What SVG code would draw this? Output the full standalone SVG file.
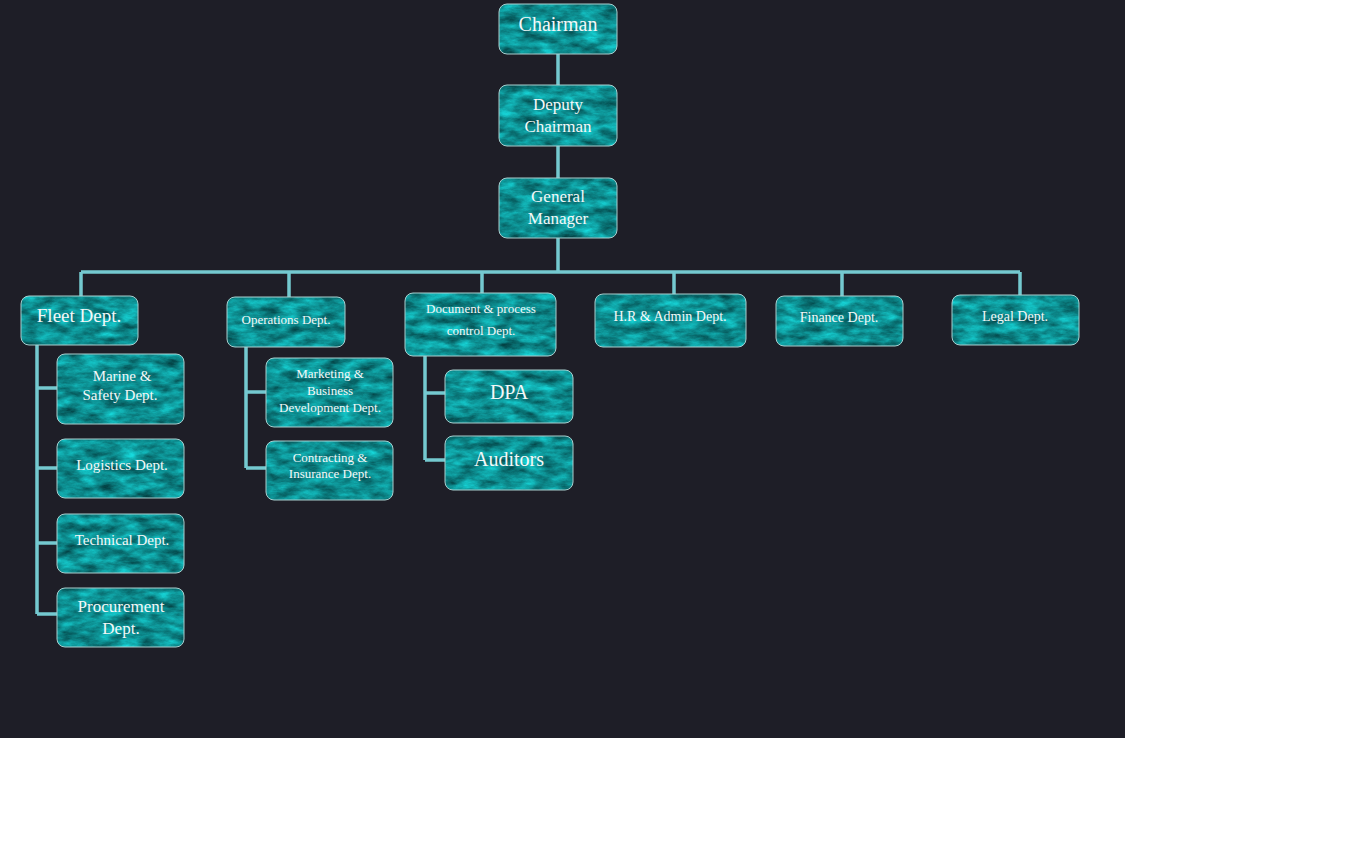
<svg xmlns="http://www.w3.org/2000/svg" width="1360" height="864" viewBox="0 0 1360 864">
  <defs>
    <!-- teal marble fill for the boxes -->
    <filter id="marble" x="0" y="0" width="1" height="1" color-interpolation-filters="sRGB">
      <feTurbulence type="fractalNoise" baseFrequency="0.05 0.12" numOctaves="5" seed="7" result="noise"/>
      <feColorMatrix in="noise" type="matrix" result="tint"
        values="0.1 0 0 0 0
                0.75 0 0 0 0.18
                0.75 0 0 0 0.19
                0 0 0 0 1"/>
      <feComposite in="tint" in2="SourceGraphic" operator="in"/>
    </filter>
    <style>
      .bg { fill: #1e1e27; }
      .box { fill: #119e9e; filter: url(#marble); }
      .edge { fill: none; stroke: #a9cfcf; stroke-width: 1; }
      .wire { fill: none; stroke: #74c9d0; stroke-width: 3; }
      text { font-family: "Liberation Serif", "Times New Roman", serif; fill: #f4f8f8; text-anchor: middle; }
      .t20 { font-size: 20px; }
      .t18 { font-size: 19px; }
      .t17 { font-size: 17px; }
      .t15 { font-size: 15px; }
      .t14 { font-size: 14px; }
      .t13 { font-size: 13px; }
    </style>
  </defs>

  <rect width="1360" height="864" fill="#ffffff"/>
  <rect class="bg" x="0" y="0" width="1125" height="738"/>

  <!-- connectors -->
  <g id="connectors">
    <path id="wire-main" class="wire" d="M558 54 V85 M558 146 V178 M558 238 V272 M81 272 H1020 M81 272 V296 M289 272 V297 M482 272 V293 M674 272 V294 M842 272 V296 M1020 272 V295 M37 345 V614 M37 388 H57 M37 468 H57 M37 543 H57 M37 614 H57 M246 347 V468 M246 392 H266 M246 468 H266 M425 356 V460 M425 393 H445 M425 460 H445"/>
    <use href="#wire-main" style="stroke:#d4f4f4;stroke-width:1"/>
  </g>

  <g id="chairman">
    <rect class="box" x="499" y="4" width="118" height="50" rx="8"/>
    <rect class="edge" x="499" y="4" width="118" height="50" rx="8"/>
    <text class="t20" x="558" y="31">Chairman</text>
  </g>

  <g id="deputy-chairman">
    <rect class="box" x="499" y="85" width="118" height="61" rx="8"/>
    <rect class="edge" x="499" y="85" width="118" height="61" rx="8"/>
    <text class="t17" x="558" y="110">Deputy</text>
    <text class="t17" x="558" y="132">Chairman</text>
  </g>

  <g id="general-manager">
    <rect class="box" x="499" y="178" width="118" height="60" rx="8"/>
    <rect class="edge" x="499" y="178" width="118" height="60" rx="8"/>
    <text class="t17" x="558" y="202">General</text>
    <text class="t17" x="558" y="224">Manager</text>
  </g>

  <g id="fleet-dept">
    <rect class="box" x="21" y="296" width="117" height="49" rx="8"/>
    <rect class="edge" x="21" y="296" width="117" height="49" rx="8"/>
    <text class="t18" x="79" y="322">Fleet Dept.</text>
  </g>

  <g id="operations-dept">
    <rect class="box" x="227" y="297" width="118" height="50" rx="8"/>
    <rect class="edge" x="227" y="297" width="118" height="50" rx="8"/>
    <text class="t13" x="286" y="324">Operations Dept.</text>
  </g>

  <g id="document-dept">
    <rect class="box" x="405" y="293" width="151" height="63" rx="8"/>
    <rect class="edge" x="405" y="293" width="151" height="63" rx="8"/>
    <text class="t13" x="481" y="313">Document &amp; process</text>
    <text class="t13" x="481" y="335">control Dept.</text>
  </g>

  <g id="hr-admin-dept">
    <rect class="box" x="595" y="294" width="151" height="53" rx="8"/>
    <rect class="edge" x="595" y="294" width="151" height="53" rx="8"/>
    <text class="t14" x="670" y="321">H.R &amp; Admin Dept.</text>
  </g>

  <g id="finance-dept">
    <rect class="box" x="776" y="296" width="127" height="50" rx="8"/>
    <rect class="edge" x="776" y="296" width="127" height="50" rx="8"/>
    <text class="t14" x="839" y="322">Finance Dept.</text>
  </g>

  <g id="legal-dept">
    <rect class="box" x="952" y="295" width="127" height="50" rx="8"/>
    <rect class="edge" x="952" y="295" width="127" height="50" rx="8"/>
    <text class="t14" x="1015" y="321">Legal Dept.</text>
  </g>

  <g id="marine-safety-dept">
    <rect class="box" x="57" y="354" width="127" height="70" rx="8"/>
    <rect class="edge" x="57" y="354" width="127" height="70" rx="8"/>
    <text class="t15" x="122" y="381">Marine &amp;</text>
    <text class="t15" x="120" y="400">Safety Dept.</text>
  </g>

  <g id="logistics-dept">
    <rect class="box" x="57" y="439" width="127" height="59" rx="8"/>
    <rect class="edge" x="57" y="439" width="127" height="59" rx="8"/>
    <text class="t15" x="122" y="470">Logistics Dept.</text>
  </g>

  <g id="technical-dept">
    <rect class="box" x="57" y="514" width="127" height="59" rx="8"/>
    <rect class="edge" x="57" y="514" width="127" height="59" rx="8"/>
    <text class="t15" x="122" y="545">Technical Dept.</text>
  </g>

  <g id="procurement-dept">
    <rect class="box" x="57" y="588" width="127" height="59" rx="8"/>
    <rect class="edge" x="57" y="588" width="127" height="59" rx="8"/>
    <text class="t17" x="121" y="612">Procurement</text>
    <text class="t17" x="121" y="634">Dept.</text>
  </g>

  <g id="marketing-dept">
    <rect class="box" x="266" y="358" width="127" height="69" rx="8"/>
    <rect class="edge" x="266" y="358" width="127" height="69" rx="8"/>
    <text class="t13" x="330" y="378">Marketing &amp;</text>
    <text class="t13" x="330" y="395">Business</text>
    <text class="t13" x="330" y="412">Development Dept.</text>
  </g>

  <g id="contracting-dept">
    <rect class="box" x="266" y="441" width="127" height="59" rx="8"/>
    <rect class="edge" x="266" y="441" width="127" height="59" rx="8"/>
    <text class="t13" x="330" y="462">Contracting &amp;</text>
    <text class="t13" x="330" y="478">Insurance Dept.</text>
  </g>

  <g id="dpa">
    <rect class="box" x="445" y="370" width="128" height="53" rx="8"/>
    <rect class="edge" x="445" y="370" width="128" height="53" rx="8"/>
    <text class="t20" x="509" y="399">DPA</text>
  </g>

  <g id="auditors">
    <rect class="box" x="445" y="436" width="128" height="54" rx="8"/>
    <rect class="edge" x="445" y="436" width="128" height="54" rx="8"/>
    <text class="t20" x="509" y="466">Auditors</text>
  </g>
</svg>
